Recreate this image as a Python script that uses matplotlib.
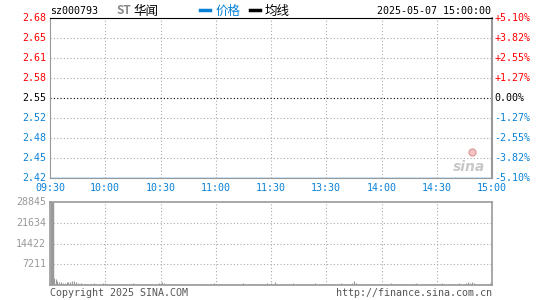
"""
Sina-style intraday chart: sz000793 ST华闻, 2025-05-07.
Price pinned at limit-down all day, volume panel underneath.
"""

import numpy as np
import matplotlib
matplotlib.use("Agg")
import matplotlib.pyplot as plt

# ── Data ─────────────────────────────────────────────────────────────────────
PRE_CLOSE = 2.55
PRICE_LOW, PRICE_HIGH = 2.4199, 2.6801
PRICE_LABELS = ["2.42", "2.45", "2.48", "2.52", "2.55", "2.58", "2.61", "2.65", "2.68"]
PCT_LABELS = ["-5.10%", "-3.82%", "-2.55%", "-1.27%", "0.00%",
              "+1.27%", "+2.55%", "+3.82%", "+5.10%"]
TIME_LABELS = ["09:30", "10:00", "10:30", "11:00", "11:30",
               "13:30", "14:00", "14:30", "15:00"]
VOL_TICKS = [7211, 14422, 21634, 28845]

# limit-down the whole session
PRICE = [2.42] * 241

VOLUME = [
    28845, 2800, 2400, 2100, 1400, 1000, 1000, 700, 700, 1000, 1000, 1000, 1400, 1400, 1000, 700, 350, 700, 350, 350,
    350, 0, 350, 350, 700, 350, 0, 350, 350, 700, 700, 350, 350, 0, 350, 350, 350, 0, 350, 350,
    350, 350, 0, 350, 350, 700, 350, 0, 350, 350, 350, 0, 350, 350, 350, 350, 0, 350, 350, 700,
    700, 1000, 700, 350, 350, 0, 350, 350, 350, 0, 350, 350, 350, 350, 0, 350, 350, 0, 350, 350,
    350, 350, 0, 350, 350, 350, 0, 350, 350, 700, 350, 0, 350, 350, 350, 0, 350, 350, 350, 0,
    350, 350, 350, 0, 350, 700, 350, 0, 350, 350, 350, 350, 0, 350, 350, 350, 0, 350, 700, 350,
    700, 350, 1000, 350, 0, 350, 350, 350, 0, 350, 350, 350, 700, 0, 350, 350, 350, 0, 350, 350,
    350, 0, 350, 350, 700, 350, 0, 350, 350, 350, 0, 350, 350, 350, 350, 0, 350, 350, 700, 350,
    350, 0, 350, 350, 700, 1400, 700, 350, 0, 350, 350, 350, 0, 350, 350, 350, 350, 0, 350, 350,
    350, 0, 350, 350, 350, 700, 350, 0, 350, 350, 350, 0, 350, 350, 350, 0, 350, 350, 350, 700,
    350, 0, 350, 350, 350, 0, 350, 350, 350, 350, 0, 350, 350, 700, 350, 0, 350, 350, 350, 0,
    350, 350, 700, 350, 0, 350, 700, 1000, 700, 1000, 700, 350, 0, 350, 350, 350, 0, 350, 350, 700,
    700,
]

# ── Style ────────────────────────────────────────────────────────────────────
RED   = "#ff0000"
BLUE  = "#0a82d8"
GRAY  = "#999999"
GRID  = "#aaaaaa"
FS    = 7.2
FS_CJK = 9
MONO  = "DejaVu Sans Mono"
CJK   = ["Noto Sans CJK SC", "DejaVu Sans"]

W, H = 545, 300
fig = plt.figure(figsize=(W / 100, H / 100), dpi=100)


def box(x0, y0, x1, y1):
    # pixel box (top-left origin) -> figure fraction rect
    return [x0 / W, 1 - y1 / H, (x1 - x0) / W, (y1 - y0) / H]


n = len(VOLUME)
x = np.arange(n)
xt = np.linspace(0, n - 1, len(TIME_LABELS))
yt = np.linspace(PRICE_LOW, PRICE_HIGH, len(PRICE_LABELS))

# ── Price panel ──────────────────────────────────────────────────────────────
ax = fig.add_axes(box(50, 18, 492, 178))
ax.plot(x, PRICE, color=BLUE, lw=1, zorder=1)
ax.set_xlim(0, n - 1)
ax.set_ylim(PRICE_LOW, PRICE_HIGH)
ax.set_xticks([])
ax.set_yticks([])
for s in ax.spines.values():
    s.set_color(GRAY)
    s.set_zorder(5)
ax.spines["top"].set_color("black")
ax.spines["right"].set_linewidth(1.5)

mid = len(PRICE_LABELS) // 2
for v in xt[1:-1]:
    ax.axvline(v, color=GRID, ls=(0, (1, 2)), lw=0.8)
for i, v in enumerate(yt):
    if 0 < i < len(yt) - 1:
        c = "black" if i == mid else GRID
        ax.axhline(v, color=c, ls=(0, (1, 2)), lw=0.8)
    col = RED if i > mid else ("black" if i == mid else BLUE)
    ax.text(-0.009, v, PRICE_LABELS[i], transform=ax.get_yaxis_transform(),
            ha="right", va="center", fontsize=FS, family=MONO, color=col)
    ax.text(1.006, v, PCT_LABELS[i], transform=ax.get_yaxis_transform(),
            ha="left", va="center", fontsize=FS, family=MONO, color=col)

for v, lab in zip(xt, TIME_LABELS):
    ax.text(v, -0.06, lab, transform=ax.get_xaxis_transform(),
            ha="center", va="center", fontsize=FS, family=MONO, color=BLUE)

# sina watermark
ax.text(0.985, 0.07, "sina", transform=ax.transAxes, ha="right", va="center",
        fontsize=10, fontweight="bold", style="italic", color="#c8c8c8")
ax.plot([0.955], [0.16], transform=ax.transAxes, marker="o", ms=5,
        color="#f4c4c4", mec="#e0a0a0", zorder=3)

# ── Volume panel ─────────────────────────────────────────────────────────────
axv = fig.add_axes(box(50, 202, 492, 285))
axv.vlines(x[1:], 0, VOLUME[1:], color=GRAY, lw=0.8)
axv.vlines([0.9], 0, VOLUME[:1], color=GRAY, lw=2.5)
axv.set_xlim(0, n - 1)
axv.set_ylim(0, VOL_TICKS[-1])
axv.set_xticks([])
axv.set_yticks([])
for s in axv.spines.values():
    s.set_color(GRAY)
    s.set_linewidth(1.2)
for v in xt[1:-1]:
    axv.axvline(v, color=GRID, ls=(0, (1, 2)), lw=0.8)
for v in VOL_TICKS:
    if v != VOL_TICKS[-1]:
        axv.axhline(v, color=GRID, ls=(0, (1, 2)), lw=0.8)
    axv.text(-0.009, v, str(v), transform=axv.get_yaxis_transform(),
             ha="right", va="center", fontsize=FS, family=MONO, color=GRAY)

# ── Header / footer text ─────────────────────────────────────────────────────
fig.text(50 / W, 1 - 11 / H, "sz000793", fontsize=FS, family=MONO,
         ha="left", va="center")
fig.text(131.5 / W, 1 - 11 / H, "ST", fontsize=8.5, family=CJK, color="#888888",
         fontweight="bold", ha="right", va="center")
fig.text(133 / W, 1 - 11 / H, "华闻", fontsize=FS_CJK, family=CJK,
         ha="left", va="center")
fig.add_artist(plt.Line2D([200 / W, 210 / W], [1 - 10 / H] * 2, color=BLUE, lw=2.5))
fig.text(216 / W, 1 - 11 / H, "价格", fontsize=FS_CJK, family=CJK, color=BLUE,
         ha="left", va="center")
fig.add_artist(plt.Line2D([250 / W, 260 / W], [1 - 10 / H] * 2, color="black", lw=2.5))
fig.text(265 / W, 1 - 11 / H, "均线", fontsize=FS_CJK, family=CJK,
         ha="left", va="center")
fig.text(491 / W, 1 - 11 / H, "2025-05-07 15:00:00", fontsize=FS, family=MONO,
         ha="right", va="center")

fig.text(50 / W, 1 - 293 / H, "Copyright 2025 SINA.COM", fontsize=FS,
         family=MONO, color="#555555", ha="left", va="center")
fig.text(492 / W, 1 - 293 / H, "http://finance.sina.com.cn", fontsize=FS,
         family=MONO, color="#555555", ha="right", va="center")

fig.savefig("out.png", dpi=100, facecolor="white")
